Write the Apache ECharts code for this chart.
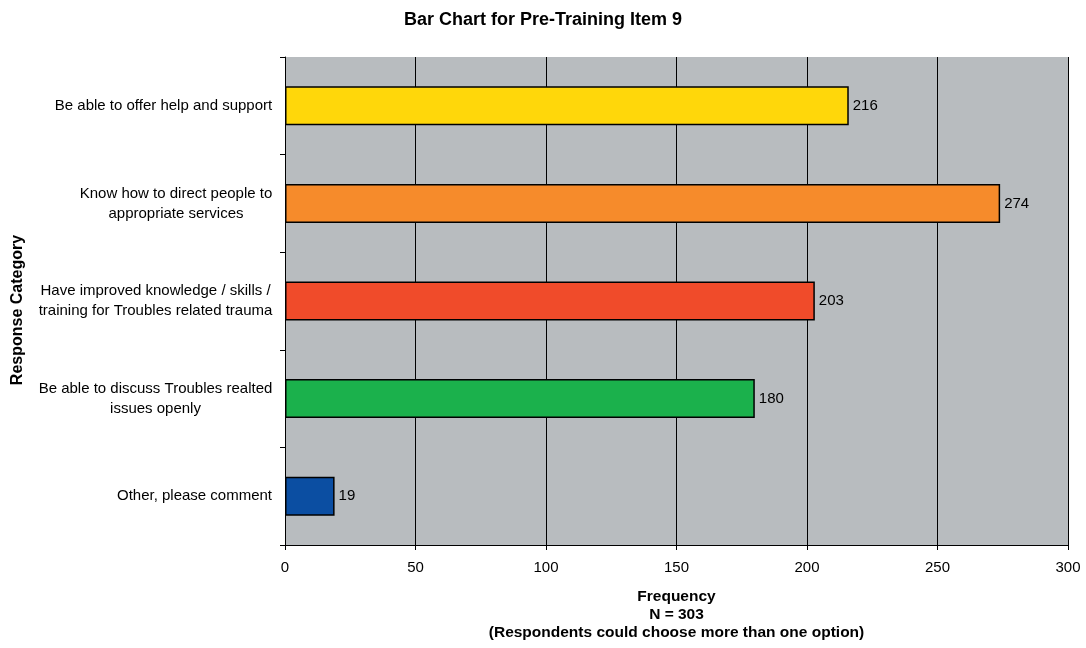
<!DOCTYPE html>
<html>
<head>
<meta charset="utf-8">
<script src="https://cdn.jsdelivr.net/npm/echarts@6/dist/echarts.min.js"></script>
<style>
  html, body { margin: 0; padding: 0; background: #fff; }
  #container { width: 1086px; height: 648px; }
</style>
</head>
<body>
<div id="container"></div>
<script>
// data
var categories = [
    'Be able to offer help and support',
    'Know how to direct people to\nappropriate services',
    'Have improved knowledge / skills /\ntraining for Troubles related trauma',
    'Be able to discuss Troubles realted\nissues openly',
    'Other, please comment'
];
var values = [216, 274, 203, 180, 19];
var barColors = ['#FFD70A', '#F68B2B', '#F04B2A', '#1BB14C', '#0B4EA2'];

var font = 'Liberation Sans, Arial, sans-serif';
var labelSize = 15;

// each label block is right aligned to the axis, its lines centred
var ctx = document.createElement('canvas').getContext('2d');
ctx.font = labelSize + 'px ' + font;
var labelRich = {};
categories.forEach(function (c, i) {
    var w = Math.max.apply(null, c.split('\n').map(function (l) {
        return ctx.measureText(l).width;
    }));
    labelRich['c' + i] = {
        width: Math.ceil(w) + 1,
        align: 'center',
        fontSize: labelSize,
        fontFamily: font,
        color: '#000',
        lineHeight: 20
    };
});

var dom = document.getElementById('container');
var myChart = echarts.init(dom, null, { renderer: 'canvas' });
var option;

option = {
    animation: false,
    textStyle: { fontFamily: font },
    title: {
        text: 'Bar Chart for Pre-Training Item 9',
        left: 'center',
        top: 6,
        textStyle: { fontSize: 18, fontWeight: 'bold', color: '#000', fontFamily: font }
    },
    grid: {
        left: 285,
        right: 18,
        top: 57,
        bottom: 103,
        show: true,
        backgroundColor: '#B8BCBF',
        borderWidth: 0,
        outerBoundsMode: 'none'
    },
    xAxis: {
        type: 'value',
        min: 0,
        max: 300,
        interval: 50,
        name: 'Frequency\nN = 303\n(Respondents could choose more than one option)',
        nameLocation: 'middle',
        nameGap: 43,
        nameMoveOverlap: false,
        nameTextStyle: { fontSize: 15.5, fontWeight: 'bold', color: '#000', lineHeight: 18, fontFamily: font },
        axisLine: { show: true, lineStyle: { color: '#000', width: 1 } },
        axisTick: { show: true, length: 5, lineStyle: { color: '#000' } },
        axisLabel: { color: '#000', fontSize: 15, margin: 15, fontFamily: font },
        splitLine: { show: true, lineStyle: { color: '#000', width: 1 } }
    },
    yAxis: {
        type: 'category',
        inverse: true,
        data: categories,
        name: 'Response Category',
        nameLocation: 'middle',
        nameGap: 259,
        nameRotate: 90,
        nameMoveOverlap: false,
        nameTextStyle: { fontSize: 16, fontWeight: 'bold', color: '#000', fontFamily: font, padding: [0, 18, 0, 0] },
        axisLine: { show: true, lineStyle: { color: '#000', width: 1 } },
        axisTick: { show: true, length: 5, lineStyle: { color: '#000' } },
        axisLabel: {
            margin: 12,
            align: 'right',
            formatter: function (v, i) {
                return v.split('\n').map(function (l) {
                    return '{c' + i + '|' + l + '}';
                }).join('\n');
            },
            rich: labelRich
        },
        splitLine: { show: false }
    },
    series: [{
        type: 'bar',
        barWidth: '40%',
        data: values.map(function (v, i) {
            return { value: v, itemStyle: { color: barColors[i] } };
        }),
        itemStyle: { borderColor: '#000', borderWidth: 1.5 },
        label: {
            show: true,
            position: 'right',
            distance: 4,
            color: '#000',
            fontSize: 15,
            fontFamily: font
        }
    }]
};

myChart.setOption(option);
window.addEventListener('resize', myChart.resize);
</script>
</body>
</html>
